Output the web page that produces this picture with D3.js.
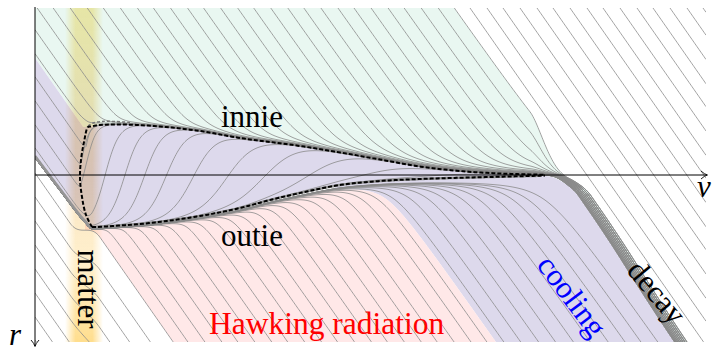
<!DOCTYPE html>
<html>
<head>
<meta charset="utf-8">
<script src="https://cdn.jsdelivr.net/npm/d3@7"></script>
<style>
body { margin: 0; background: #fff; }
svg { display: block; }
</style>
</head>
<body>
<svg id="chart" width="715" height="351"></svg>
<script>
// ---- curves, in (v, r) units ----
var innieV = [5.3, 6.5, 8.5, 12.5, 16.5, 20.5, 26.5, 30.5, 34.5, 38.5, 42.5, 46.5, 51.0];
var innieR = [-4.8, -5.0, -5.05, -4.85, -4.4, -3.7, -2.9, -2.25, -1.55, -0.85, -0.4, -0.15, -0.02];
// outie, starting with the separatrix coming in from the r axis
var outieV = [0, 2.5, 5.0, 5.7, 8.5, 11.5, 16.5, 20.5, 23.5, 26.5, 30.5, 34.5, 38.5, 43.5, 51.0];
var outieR = [-1.9, 1.4, 4.6, 5.2, 5.05, 4.8, 4.1, 3.3, 2.5, 1.8, 1.0, 0.6, 0.4, 0.25, 0.06];
// left edge of the trapped region (dashed)
var apparentV = [5.7, 5.1, 4.7, 4.5, 4.6, 4.9, 5.3];
var apparentR = [5.2, 4.0, 2.2, 0.3, -1.5, -3.3, -4.8];
// grey dashed piece at the tip of the innie
var tipV = [5.3, 5.8, 6.7, 8.0, 9.5];
var tipR = [-4.9, -5.2, -5.35, -5.35, -5.25];
// left edge of the decay band
var decayV = [50.5, 51.7, 52.9, 54.0, 54.8, 57.5, 60.3, 62.9, 63.9];
var decayR = [0.06, 0.2, 0.8, 1.7, 2.8, 6.8, 11.2, 15.2, 16.7];

// ---- light rays ----
// teal rays: where they leave the top edge (v), and two entering from the r axis (r)
var tealStarts = [0.2, 1.8, 3.5, 5.2, 6.8, 8.5, 10.2, 11.8, 13.5, 15.2, 16.8, 18.5, 20.2,
                  21.8, 23.5, 25.2, 26.8, 28.5, 30.2, 31.8, 33.5, 35.2, 36.8, 38.5, 40.2, 41.8];
var tealEntries = [-12.1, -14.5];
var purpleEdge = -11.7;
// straight rays, top right
var freeStarts = [43.5, 45.2, 46.8, 48.5, 50.2, 51.8, 53.5, 55.2, 56.8, 58.5, 60.2, 61.8, 63.5, 65.2, 66.8];
// trapped rays from the r axis: entry r, where they rise to the innie, how fast
var trappedEntries = [-9.8, -7.4, -5.0, -2.6];
var trappedRise = [4.8, 4.5, 4.9, 7.0];
var trappedWidth = [0.25, 0.35, 0.5, 0.7];
// rays that leave the outie bundle and rise to the innie
var lensRise = [9.0, 11.0, 13.2, 16.0, 19.5, 23.5, 28.5, 35.0, 42.5];
var lensWidth = [0.8, 0.9, 1.0, 1.15, 1.35, 1.6, 1.9, 2.3, 2.8];
// escaping rays, by where they reach the bottom edge (v)
var hawkingEnds = [15.3, 17.0, 18.7, 20.3, 22.0, 23.7, 25.3, 27.0, 28.7, 30.3, 32.0, 33.7,
                   35.3, 37.0, 38.7, 40.3, 42.0, 43.7, 45.3];
var coolingEdge = 46.2;
var coolingEnds = [47.0, 48.7, 50.5, 52.2, 54.0, 55.7, 57.5, 59.2, 60.8, 62.5];
// rays from the r axis below the separatrix and how far the matter delays them
var lowEntries = [-0.2, 2.2, 4.6, 7.0, 9.4, 11.8, 14.2, 16.5];
var lowShift = [2.0, 1.4, 1.0, 0.7, 0.45, 0.3, 0.15, 0.05];

var regionLabels = ["innie", "outie", "Hawking radiation", "matter", "cooling", "decay"];
var axisNames = ["v", "r"];

// ---- scales ----
var svg = d3.select("#chart");
var x = d3.scaleLinear().domain([0, 67.1]).range([35, 706]);
var y = d3.scaleLinear().domain([-16.7, 16.7]).range([8, 342]);
var TOP = -16.7, BOT = 16.7, SLOPE = 1.43;
var SERIF = "Liberation Serif";
var BAND_LINES = 9;

// monotone cubic through the read points, flat outside
function spline(xs, ys) {
  var n = xs.length, d = [], m = [], i;
  for (i = 0; i < n - 1; i++) d.push((ys[i + 1] - ys[i]) / (xs[i + 1] - xs[i]));
  m[0] = d[0]; m[n - 1] = d[n - 2];
  for (i = 1; i < n - 1; i++) m[i] = d[i - 1] * d[i] <= 0 ? 0 : (d[i - 1] + d[i]) / 2;
  for (i = 0; i < n - 1; i++) {
    if (d[i] === 0) { m[i] = 0; m[i + 1] = 0; continue; }
    var a = m[i] / d[i], b = m[i + 1] / d[i], h = a * a + b * b;
    if (h > 9) { var t0 = 3 / Math.sqrt(h); m[i] = t0 * a * d[i]; m[i + 1] = t0 * b * d[i]; }
  }
  var bis = d3.bisector(function(v) { return v; }).right;
  return function(v) {
    if (v <= xs[0]) return ys[0];
    if (v >= xs[n - 1]) return ys[n - 1];
    var k = Math.min(n - 2, bis(xs, v) - 1);
    var hh = xs[k + 1] - xs[k], t = (v - xs[k]) / hh, t2 = t * t, t3 = t2 * t;
    return (2 * t3 - 3 * t2 + 1) * ys[k] + (t3 - 2 * t2 + t) * hh * m[k] +
           (-2 * t3 + 3 * t2) * ys[k + 1] + (t3 - t2) * hh * m[k + 1];
  };
}

var I = spline(innieV, innieR);
var O = spline(outieV, outieR);
var bandSpline = spline(decayV, decayR);
function B(v) {
  var n = decayV.length - 1;
  if (v > decayV[n]) return decayR[n] + 1.55 * (v - decayV[n]);
  return bandSpline(v);
}

function smin(a, b, e) { return (a + b) / 2 - Math.sqrt((a - b) * (a - b) / 4 + e * e); }
function smax(a, b, e) { return (a + b) / 2 + Math.sqrt((a - b) * (a - b) / 4 + e * e); }
function smooth(t) { t = Math.max(0, Math.min(1, t)); return t * t * (3 - 2 * t); }

function fromTop(v0) { return function(v) { return TOP + SLOPE * (v - v0); }; }
function fromAxis(r0) { return function(v) { return r0 + SLOPE * v; }; }
function toBottom(vb) { return function(v) { return BOT - SLOPE * (vb - v); }; }

// after the horizons meet, every ray left inside runs down the decay band, offset by s
function intoBand(pre, s) {
  return function(v) {
    var w = smooth((v - 49.5) / 4);
    return w === 0 ? pre(v) : (1 - w) * pre(v) + w * B(v - s);
  };
}
function tealPre(line) {
  return function(v) { return smin(line(v), I(v), 0.5 + 0.03 * v); };
}
function riser(vm, w) {
  return function(v) { return I(v) + (O(v) - I(v)) / (1 + Math.exp((v - vm) / w)); };
}
function trappedPre(r0, vm, w) {
  var L = fromAxis(r0), R = riser(vm, w);
  return function(v) { return smin(L(v), R(v), 0.3); };
}
function escapeRay(vb) {
  var L = toBottom(vb), e = 0.35 + 0.04 * (vb - 14);
  return function(v) { return smax(L(v), O(v) + 0.12, e); };
}
function lowRay(r0, sh) {
  return function(v) { return r0 + SLOPE * (v - sh * smooth((v - 3.5) / 3)); };
}

// rays that end in the decay band, in order from the purple side to the teal side
var inner = [];
for (var li = lensRise.length - 1; li >= 0; li--) inner.push(riser(lensRise[li], lensWidth[li]));
for (var ti = trappedEntries.length - 1; ti >= 0; ti--) {
  inner.push(trappedPre(trappedEntries[ti], trappedRise[ti], trappedWidth[ti]));
}
tealEntries.forEach(function(r0) { inner.push(tealPre(fromAxis(r0))); });
tealStarts.forEach(function(v0) { inner.push(tealPre(fromTop(v0))); });
var bandRays = inner.map(function(pre, j) {
  var level = Math.round((BAND_LINES - 1) * j / (inner.length - 1)) / (BAND_LINES - 1);
  return intoBand(pre, 0.05 + 1.25 * Math.pow(level, 1.3));
});

var line = d3.line().x(function(d) { return x(d[0]); }).y(function(d) { return y(d[1]); });
function pathOf(f, v0, v1, step) {
  var pts = d3.range(v0, v1 + 1e-9, step || 0.1).map(function(v) {
    return [v, Math.max(-30, Math.min(30, f(v)))];
  });
  return line(pts);
}

svg.append("defs").html(
  '<clipPath id="plot"><rect x="35" y="8" width="671" height="334"/></clipPath>' +
  '<linearGradient id="matterColour" x1="0" y1="0" x2="0" y2="1">' +
  '<stop offset="0" stop-color="#fae070" stop-opacity="0.55"/>' +
  '<stop offset="0.5" stop-color="#f2c888" stop-opacity="0.5"/>' +
  '<stop offset="0.75" stop-color="#ffd880" stop-opacity="0.4"/>' +
  '<stop offset="1" stop-color="#ffcc50" stop-opacity="0.65"/></linearGradient>' +
  '<linearGradient id="matterFade" x1="0" y1="0" x2="1" y2="0">' +
  '<stop offset="0" stop-color="#fff" stop-opacity="0"/>' +
  '<stop offset="0.28" stop-color="#fff" stop-opacity="1"/>' +
  '<stop offset="0.72" stop-color="#fff" stop-opacity="1"/>' +
  '<stop offset="1" stop-color="#fff" stop-opacity="0"/></linearGradient>' +
  '<mask id="matterMask"><rect x="65" y="8" width="38" height="334" fill="url(#matterFade)"/></mask>'
);

var plot = svg.append("g").attr("clip-path", "url(#plot)");

// ---- regions ----
var rT = bandRays[bandRays.length - 1];
var Lp = fromAxis(purpleEdge);
var rb = escapeRay(coolingEdge);
var rw = lowRay(lowEntries[0], lowShift[0]);
var vs = d3.range(0, 67.15, 0.05);

function region(colour, lo, hi, v0, v1) {
  var vv = vs.filter(function(v) { return v >= v0 && v <= v1; });
  plot.append("path")
    .attr("fill", colour)
    .attr("d", d3.area()
      .defined(function(v) { return hi(v) > lo(v); })
      .x(function(v) { return x(v); })
      .y0(function(v) { return y(Math.max(-30, lo(v))); })
      .y1(function(v) { return y(Math.min(30, hi(v))); })(vv));
}
region("#e9f7f1",
  function(v) { return Math.max(TOP, rT(v)); },
  function(v) { return v < 50.5 ? Math.min(Lp(v), I(v)) : Math.max(I(v), B(v)); }, 0, 67.1);
region("#ddd9ec",
  function(v) { return Math.min(Lp(v), I(v)); },
  function(v) { return O(v); }, 0, 51.5);
region("#ddd9ec",
  function(v) { return v < 50.5 ? O(v) : B(v); },
  function(v) { return Math.min(BOT, rb(v)); }, 30, 67.1);
region("#ffe8e8",
  function(v) { return rb(v); },
  function(v) { return Math.min(BOT, rw(v)); }, 5, 48);

// ---- matter shell ----
plot.append("rect")
  .attr("x", 65).attr("y", 8).attr("width", 38).attr("height", 334)
  .attr("fill", "url(#matterColour)")
  .attr("mask", "url(#matterMask)")
  .style("mix-blend-mode", "multiply");

// ---- rays ----
var rays = bandRays.slice();
freeStarts.forEach(function(v0) { rays.push(fromTop(v0)); });
hawkingEnds.forEach(function(vb) { rays.push(escapeRay(vb)); });
coolingEnds.forEach(function(vb) { rays.push(escapeRay(vb)); });
lowEntries.forEach(function(r0, i) { rays.push(lowRay(r0, lowShift[i])); });

plot.append("g")
  .attr("fill", "none").attr("stroke", "#8a8a8a").attr("stroke-width", 0.8)
  .selectAll("path").data(rays).join("path")
  .attr("d", function(f) { return pathOf(f, 0, 67.1); });

// separatrix / outie bundle
plot.append("path")
  .attr("fill", "none").attr("stroke", "#959595").attr("stroke-width", 2.6)
  .attr("d", pathOf(O, 0, 50.5));

// ---- horizons ----
var curvy = d3.line().curve(d3.curveCatmullRom)
  .x(function(d) { return x(d[0]); }).y(function(d) { return y(d[1]); });
var innerPts = d3.zip(apparentV, apparentR)
  .concat(d3.range(5.6, 51.01, 0.3).map(function(v) { return [v, I(v)]; }));
plot.append("path")
  .attr("fill", "none").attr("stroke", "#777").attr("stroke-width", 1.5)
  .attr("stroke-dasharray", "3,2")
  .attr("d", curvy(d3.zip(tipV, tipR)));
plot.append("path")
  .attr("fill", "none").attr("stroke", "#000").attr("stroke-width", 2)
  .attr("stroke-dasharray", "4,2")
  .attr("d", curvy(innerPts));
plot.append("path")
  .attr("fill", "none").attr("stroke", "#000").attr("stroke-width", 2)
  .attr("stroke-dasharray", "4,2")
  .attr("d", curvy(d3.range(5.7, 51.01, 0.3).map(function(v) { return [v, O(v)]; })));

// ---- axes ----
svg.append("line").attr("x1", x(0)).attr("x2", 707).attr("y1", y(0)).attr("y2", y(0))
  .attr("stroke", "#000").attr("stroke-width", 1);
svg.append("line").attr("x1", x(0)).attr("x2", x(0)).attr("y1", 7).attr("y2", 346)
  .attr("stroke", "#000").attr("stroke-width", 1);
svg.append("path").attr("fill", "none").attr("stroke", "#000").attr("stroke-width", 0.9)
  .attr("d", "M701,171 Q704.5,174.3 707.5,175 Q704.5,175.7 701,179");
svg.append("path").attr("fill", "none").attr("stroke", "#000").attr("stroke-width", 0.9)
  .attr("d", "M31,340 Q34.3,343.5 35,346.5 Q35.7,343.5 39,340");

var txt = svg.append("g").attr("font-family", SERIF);
txt.append("text").attr("x", 697).attr("y", 197).attr("font-size", 31)
  .attr("font-style", "italic").text(axisNames[0]);
txt.append("text").attr("x", 9).attr("y", 345).attr("font-size", 31)
  .attr("font-style", "italic").text(axisNames[1]);

// ---- labels ----
txt.append("text").attr("x", 221).attr("y", 127).attr("font-size", 31).text(regionLabels[0]);
txt.append("text").attr("x", 221).attr("y", 246).attr("font-size", 31).text(regionLabels[1]);
txt.append("text").attr("x", 209).attr("y", 334).attr("font-size", 31.5)
  .attr("fill", "#ff0000").text(regionLabels[2]);
txt.append("text").attr("transform", "translate(78,289) rotate(90)")
  .attr("text-anchor", "middle").attr("font-size", 31).text(regionLabels[3]);
txt.append("text").attr("transform", "translate(572,296) rotate(53)")
  .attr("text-anchor", "middle").attr("dominant-baseline", "central")
  .attr("font-size", 31).attr("fill", "#0000ff").text(regionLabels[4]);
txt.append("text").attr("transform", "translate(657,292) rotate(50)")
  .attr("text-anchor", "middle").attr("dominant-baseline", "central")
  .attr("font-size", 31).text(regionLabels[5]);
</script>
</body>
</html>
